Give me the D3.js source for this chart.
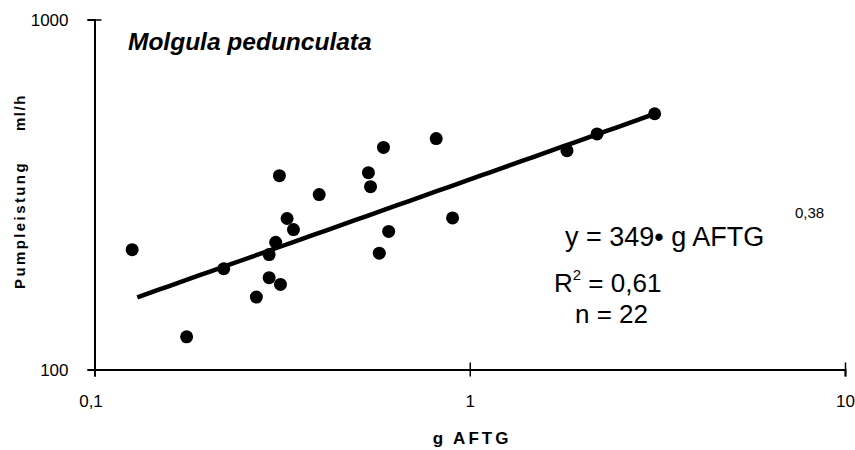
<!DOCTYPE html>
<html>
<head>
<meta charset="utf-8">
<script src="https://cdn.jsdelivr.net/npm/d3@7"></script>
<style>
  html, body { margin: 0; padding: 0; background: #fff; }
  svg { display: block; font-family: "Liberation Sans", Arial, Helvetica, sans-serif; }
</style>
</head>
<body>
<svg id="chart" width="855" height="450"></svg>
<script>
// Body mass (g ash-free dry weight) and pumping rate (ml/h) per animal
const gAFTG = [0.126, 0.176, 0.311, 0.326, 0.339, 0.304, 0.292, 0.221, 0.292, 0.313, 0.270,
               0.397, 0.589, 0.814, 0.537, 0.544, 0.608, 0.574, 0.900, 1.816, 2.184, 3.11];
const pumpRate = [220, 124, 358, 270, 251, 231, 213, 194, 183, 175, 161,
                  316, 431, 457, 365, 333, 248, 215, 271, 422, 471, 538];

// Power-law fit  y = a * x^b
const fitCoef = 349;
const fitExp = 0.38;
const fitRange = [0.13, 3.16];

const xTicks = [0.1, 1, 10];
const xTickLabels = ["0,1", "1", "10"];
const yTicks = [100, 1000];
const yTickLabels = ["100", "1000"];

const svg = d3.select("#chart");

const x = d3.scaleLog().domain([0.1, 10]).range([94.5, 845]);
const y = d3.scaleLog().domain([100, 1000]).range([369.5, 19.5]);

// x axis with ticks crossing the line
const xAxis = svg.append("g")
  .attr("transform", `translate(0,${y(100)})`)
  .call(d3.axisBottom(x).tickValues(xTicks).tickFormat((d, i) => xTickLabels[i]).tickSizeOuter(0).tickSize(7));
xAxis.select(".domain").attr("stroke", "#000").attr("stroke-width", 2);
xAxis.selectAll(".tick line").attr("y1", -7).attr("y2", 7).attr("stroke", "#000").attr("stroke-width", 1.5);
xAxis.selectAll(".tick text")
  .attr("y", 37).attr("dy", null)
  .attr("font-size", 17).attr("fill", "#000")
  .attr("font-family", "Liberation Sans, Arial, sans-serif");
xAxis.selectAll(".tick").filter(d => d === 0.1).select("text").attr("x", -4);

// y axis
const yAxis = svg.append("g")
  .attr("transform", `translate(${x(0.1)},0)`)
  .call(d3.axisLeft(y).tickValues(yTicks).tickFormat((d, i) => yTickLabels[i]).tickSizeOuter(0).tickSize(7));
yAxis.select(".domain").attr("stroke", "#000").attr("stroke-width", 2);
yAxis.selectAll(".tick line").attr("x1", -7).attr("x2", 7).attr("stroke", "#000").attr("stroke-width", 1.5);
yAxis.selectAll(".tick text")
  .attr("x", -26).attr("dy", "0.35em")
  .attr("font-size", 17).attr("fill", "#000")
  .attr("font-family", "Liberation Sans, Arial, sans-serif");

// axis titles
svg.append("text")
  .attr("x", 472).attr("y", 444)
  .attr("text-anchor", "middle")
  .attr("font-size", 17).attr("font-weight", "bold")
  .attr("letter-spacing", 3)
  .text("g AFTG");

svg.append("text")
  .attr("transform", "translate(25,289) rotate(-90)")
  .attr("text-anchor", "start")
  .attr("font-size", 15).attr("font-weight", "bold")
  .attr("letter-spacing", 2.4)
  .text("Pumpleistung");
svg.append("text")
  .attr("transform", "translate(25,131) rotate(-90)")
  .attr("text-anchor", "start")
  .attr("font-size", 15).attr("font-weight", "bold")
  .attr("letter-spacing", 1.5)
  .text("ml/h");

// species title
svg.append("text")
  .attr("x", 128).attr("y", 50)
  .attr("font-size", 24.5).attr("font-weight", "bold").attr("font-style", "italic")
  .text("Molgula pedunculata");

// regression line
const fitPts = d3.range(0, 51).map(i => {
  const lx = Math.log10(fitRange[0]) + i / 50 * (Math.log10(fitRange[1]) - Math.log10(fitRange[0]));
  const gx = Math.pow(10, lx);
  return [gx, fitCoef * Math.pow(gx, fitExp)];
});
svg.append("path")
  .datum(fitPts)
  .attr("fill", "none")
  .attr("stroke", "#000")
  .attr("stroke-width", 4.5)
  .attr("d", d3.line().x(d => x(d[0])).y(d => y(d[1])));

// data points
svg.append("g").selectAll("circle")
  .data(gAFTG.map((g, i) => [g, pumpRate[i]]))
  .join("circle")
  .attr("cx", d => x(d[0]))
  .attr("cy", d => y(d[1]))
  .attr("r", 6.5)
  .attr("fill", "#000");

// equation block
const eq = svg.append("g").attr("font-size", 26).attr("fill", "#000");
eq.append("text").attr("x", 565).attr("y", 246).attr("font-size", 27).text("y = 349\u2022 g AFTG");
eq.append("text").attr("x", 795).attr("y", 218).attr("font-size", 15).text("0,38");
const r2 = eq.append("text").attr("x", 554).attr("y", 292);
r2.append("tspan").text("R");
r2.append("tspan").attr("dx", 0).attr("dy", -12).attr("font-size", 15).text("2");
r2.append("tspan").attr("dy", 12).text(" = 0,61");
eq.append("text").attr("x", 575).attr("y", 323).text("n = 22");
</script>
</body>
</html>
